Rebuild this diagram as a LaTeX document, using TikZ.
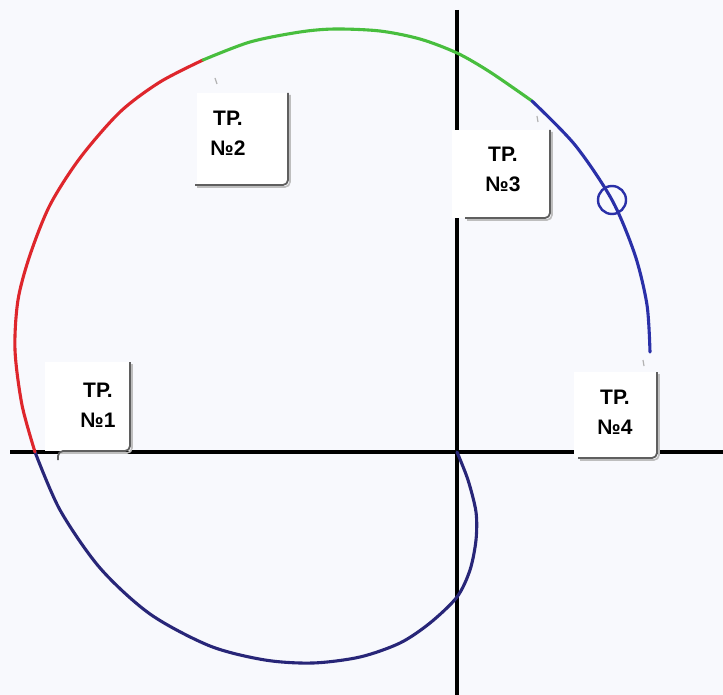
\documentclass[tikz,border=0pt]{standalone}
\usepackage{fontspec}
\setmainfont{Liberation Sans}
\usetikzlibrary{calc}
\definecolor{bgPaper}  {RGB}{248,249,253}
\definecolor{crvNavy}  {RGB}{ 40, 38,120}
\definecolor{crvRed}   {RGB}{222, 38, 44}
\definecolor{crvGreen} {RGB}{ 72,190, 62}
\definecolor{crvBlue}  {RGB}{ 42, 48,168}
\definecolor{cardEdge} {RGB}{ 95, 95, 95}
\definecolor{cardShade}{RGB}{190,190,190}

\begin{document}
\begin{tikzpicture}[x=1pt,y=-1pt,
  axis/.style={line width=3.5pt,black},
  crv/.style={line width=3.1pt,line cap=round,line join=round},
  card/.style={fill=white},
  cardedge/.style={draw=cardEdge,line width=1.8pt,rounded corners=5pt},
  cardshade/.style={draw=cardShade,line width=1.6pt,rounded corners=5pt},
  tp/.style={font=\bfseries\fontsize{21}{30}\selectfont,align=center,inner sep=0pt},
  nib/.style={draw=gray!60,line width=1.2pt}
]
\fill[bgPaper] (0,0) rectangle (723,695);
\useasboundingbox (0,0) rectangle (723,695);

% axes
\coordinate (O) at (457,452);
\draw[axis] (10,452) -- (723,452);
\draw[axis] (457,10) -- (457,695);

% trajectory
\draw[crv,crvNavy] plot[smooth] coordinates {(457,452) (468,480) (476,512) (476,540)
  (470,570) (457,597) (430,623) (400,643) (360,657) (313,663) (265,660) (210,646)
  (150,614) (100,568) (60,510) (35,452)};
\draw[crv,crvRed] plot[smooth] coordinates {(35,452) (22,405) (15,350) (18,300)
  (30,255) (50,205) (80,158) (120,112) (160,82) (203,60)};
\draw[crv,crvGreen] plot[smooth] coordinates {(203,60) (250,42) (300,32) (335,29)
  (380,31) (420,39) (457,53) (490,72) (532,101)};
\draw[crv,crvBlue] plot[smooth] coordinates {(532,101) (575,145) (612,200)
  (635,255) (647,305) (650,352)};
\draw[crvBlue,line width=2.4pt] (612,200) circle (14);

% cards
\fill[card] (197,93) rectangle (288,185);
\draw[cardshade] (290,95) |- (197,187);
\draw[cardedge] (288,93) |- (195,185);
\node[tp] (tp2) at (228,133) {ТР.\\№2};
\draw[nib] (215,78) -- (217,84);

\fill[card] (452,130) rectangle (550,218);
\draw[cardshade] (552,132) |- (467,220);
\draw[cardedge] (550,130) |- (465,218);
\node[tp] (tp3) at (503,169) {ТР.\\№3};
\draw[nib] (537,116) -- (538,122);

\fill[card] (45,362) rectangle (130,451);
\draw[cardshade] (132,364) |- (60,453);
\draw[cardedge] (130,362) |- (58,451) -- (58,460);
\node[tp] (tp1) at (98,405) {ТР.\\№1};

\fill[card] (574,372) rectangle (657,458);
\draw[cardshade] (659,374) |- (580,460);
\draw[cardedge] (657,372) |- (578,458);
\node[tp] (tp4) at (615,412) {ТР.\\№4};
\draw[nib] (643,360) -- (644,366);
\end{tikzpicture}
\end{document}
